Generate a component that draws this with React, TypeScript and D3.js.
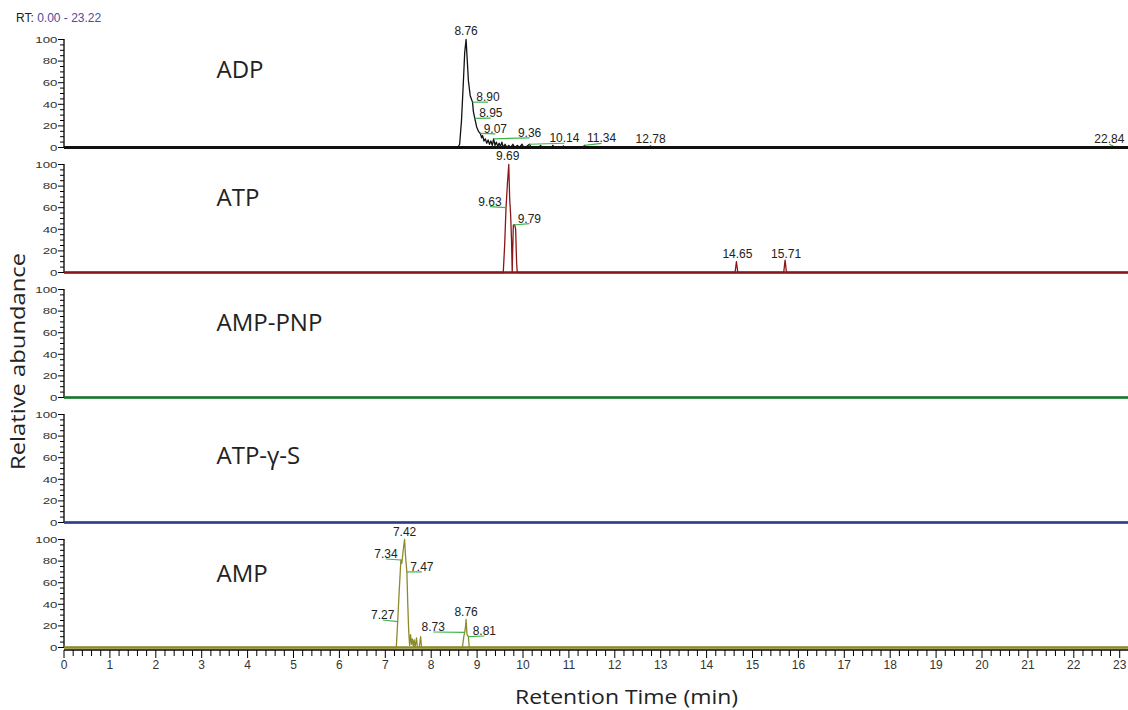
import React from "react";
import * as d3 from "d3";

// ---------- DATA ----------
const panelNames = ["ADP", "ATP", "AMP-PNP", "ATP-γ-S", "AMP"];
const rtRange = [0, 23.22];
const xTickValues = d3.range(0, 24, 1);
const yTickValues = [0, 20, 40, 60, 80, 100];

// chromatogram traces: [retention time (min), relative abundance (%)]
const adpTrace: [number, number][] = [
  [0, 0], [8.58, 0], [8.62, 3], [8.66, 25], [8.7, 60], [8.73, 88], [8.76, 100], [8.78, 85],
  [8.81, 62], [8.85, 48], [8.9, 42], [8.92, 33], [8.95, 27], [8.99, 19], [9.03, 15], [9.07, 13],
  [9.1, 9], [9.12, 11], [9.15, 6], [9.18, 8], [9.21, 4], [9.24, 7], [9.27, 3], [9.3, 6],
  [9.33, 2], [9.36, 8], [9.39, 2], [9.42, 5], [9.45, 1], [9.48, 4], [9.51, 1], [9.54, 5],
  [9.57, 0], [9.61, 3], [9.65, 0], [9.69, 2], [9.73, 0], [9.78, 3], [9.82, 0], [9.88, 2],
  [9.92, 0], [9.98, 3], [10.02, 0], [10.08, 1], [10.14, 3], [10.18, 0], [10.35, 0], [10.38, 2],
  [10.42, 0], [10.62, 0], [10.65, 2], [10.68, 0], [10.85, 0], [10.88, 1.5], [10.91, 0],
  [11.3, 0], [11.34, 2], [11.38, 0], [12.75, 0], [12.78, 1.5], [12.81, 0], [22.81, 0],
  [22.84, 1.5], [22.87, 0], [23.22, 0],
];
const atpTrace: [number, number][] = [
  [0, 0], [9.57, 0], [9.6, 25], [9.63, 60], [9.66, 82], [9.69, 100], [9.71, 68], [9.73, 54],
  [9.75, 30], [9.765, 0], [9.775, 20], [9.79, 44], [9.82, 44], [9.84, 40], [9.86, 10],
  [9.875, 0], [14.62, 0], [14.65, 10], [14.68, 0], [15.68, 0], [15.71, 11.5], [15.74, 0],
  [23.22, 0],
];
const ampPnpTrace: [number, number][] = [[0, 0], [23.22, 0]];
const atpGSTrace: [number, number][] = [[0, 0], [23.22, 0]];
const ampTrace: [number, number][] = [
  [0, 0], [7.24, 0], [7.27, 24], [7.3, 50], [7.34, 81], [7.36, 78], [7.39, 90], [7.42, 100],
  [7.44, 85], [7.47, 70], [7.49, 40], [7.51, 15], [7.53, 2], [7.55, 12], [7.57, 3], [7.59, 8],
  [7.61, 1], [7.63, 7], [7.65, 0], [7.68, 9], [7.7, 0], [7.74, 0], [7.77, 10], [7.79, 0],
  [8.68, 0], [8.71, 10], [8.73, 14], [8.75, 20], [8.76, 26], [8.78, 12], [8.81, 10], [8.83, 0],
  [23.22, 0],
];
const traces = [adpTrace, atpTrace, ampPnpTrace, atpGSTrace, ampTrace];

// peak annotations: retention time and abundance of the labelled point
const adpPeakRt = [8.76, 8.9, 8.95, 9.07, 9.36, 10.14, 11.34, 12.78, 22.84];
const adpPeakVal = [100, 42, 27, 13, 8, 3, 2, 1.5, 1.5];
const atpPeakRt = [9.69, 9.63, 9.79, 14.65, 15.71];
const atpPeakVal = [100, 60, 44, 10, 11.5];
const ampPeakRt = [7.42, 7.34, 7.47, 7.27, 8.76, 8.73, 8.81];
const ampPeakVal = [100, 81, 70, 24, 26, 14, 10];
const peakRts = [adpPeakRt, atpPeakRt, [], [], ampPeakRt];
const peakVals = [adpPeakVal, atpPeakVal, [], [], ampPeakVal];

// ---------- LAYOUT / STYLE ----------
const W = 1128;
const H = 710;
const left = 64;
const pxPerMin = 45.9;
const panelTop0 = 39.5;
const panelStep = 125;
const panelH = 108;
const colors = ["#111111", "#8a1717", "#15772f", "#2c3a88", "#8d8a2c"];
const labelBaseOffsets = [38, 41.5, 41.5, 49.5, 42.5];
const annoGreen = "#3db54a";
// label offsets (px) relative to peak point: [dx, dy]
const labelOffsets: [number, number][][] = [
  [[0, -4.5], [15.5, -1], [16, -1.3], [15, -0.5], [36, -2], [35, -2], [17, -3], [0, -3], [-3, -3]],
  [[-1, -4.5], [-16, -2], [16, -2.3], [1, -3.7], [1, -2.5]],
  [],
  [],
  [[0, -3.5], [-15, -2], [15, -1], [-15, -2.6], [0, -3], [-31.5, -1.4], [16, -1.7]],
];
const tickFont = "'Liberation Sans', Arial, Helvetica, sans-serif";
const titleFont = "'Open Sans', 'Noto Sans', sans-serif";

export default function App() {
  const x = d3
    .scaleLinear()
    .domain(rtRange)
    .range([left, left + (rtRange[1] - rtRange[0]) * pxPerMin]);
  const yScales = panelNames.map((_, i) =>
    d3
      .scaleLinear()
      .domain([0, 100])
      .range([panelTop0 + i * panelStep + panelH, panelTop0 + i * panelStep])
  );
  const yMinor = d3.range(0, 101, 5);
  const xMinor = d3.range(0, 23.21, 0.2);
  const lastY = yScales[4](0);
  const axisY = lastY + 2.5;

  return (
    <svg
      width={W}
      height={H}
      style={{ position: "absolute", left: 0, top: 0, background: "#fff" }}
    >
      <rect x={0} y={0} width={W} height={H} fill="#fff" />
      <text x={16} y={21.5} fontFamily={tickFont} fontSize={12} fill="#222">
        RT:{" "}
        <tspan fill="#4b4c9c">0.00 - 23.22</tspan>
      </text>

      {panelNames.map((name, i) => {
        const y = yScales[i];
        const line = d3
          .line<[number, number]>()
          .x((d) => x(d[0]))
          .y((d) => y(d[1]));
        return (
          <g key={name}>
            {/* y axis */}
            <line x1={left} x2={left} y1={y(100) - 0.5} y2={y(0)} stroke="#000" strokeWidth={1.3} />
            {yMinor.map((v) => {
              const major = v % 20 === 0;
              return (
                <line
                  key={v}
                  x1={left - (major ? 6 : 4)}
                  x2={left}
                  y1={y(v)}
                  y2={y(v)}
                  stroke="#000"
                  strokeWidth={1}
                />
              );
            })}
            {yTickValues.map((v) => (
              <text
                key={"l" + v}
                x={57.5}
                y={y(v) + 3.2}
                textAnchor="end"
                fontFamily={tickFont}
                fontSize={8.6}
                fill="#333"
                textLength={String(v).length * 7.4}
                lengthAdjust="spacingAndGlyphs"
              >
                {v}
              </text>
            ))}
            {/* baseline */}
            <line
              x1={left}
              x2={W}
              y1={y(0)}
              y2={y(0)}
              stroke={colors[i]}
              strokeWidth={i === 0 ? 2.8 : 2.4}
            />
            {/* trace */}
            <path
              d={line(traces[i]) || ""}
              fill="none"
              stroke={colors[i]}
              strokeWidth={1.3}
              strokeLinejoin="round"
            />
            {/* annotations */}
            {peakRts[i].map((rt, k) => {
              const px = x(rt);
              const py = y(peakVals[i][k]);
              const [dx, dy] = labelOffsets[i][k];
              const tx = px + dx;
              const ty = py + dy;
              const showLine = Math.abs(dx) > 2;
              return (
                <g key={"a" + k}>
                  {showLine && (
                    <line
                      x1={px}
                      y1={py}
                      x2={tx}
                      y2={ty + 1}
                      stroke={annoGreen}
                      strokeWidth={1.2}
                    />
                  )}
                  <text
                    x={tx}
                    y={ty}
                    textAnchor="middle"
                    fontFamily={tickFont}
                    fontSize={12}
                    fill="#222"
                  >
                    {rt.toFixed(2)}
                  </text>
                </g>
              );
            })}
            {/* compound label */}
            <text
              x={216.5}
              y={y(100) + labelBaseOffsets[i]}
              fontFamily={titleFont}
              fontSize={24}
              fill="#222"
            >
              {name}
            </text>
          </g>
        );
      })}

      {/* x axis */}
      <line x1={left} x2={W} y1={axisY} y2={axisY} stroke="#000" strokeWidth={1.3} />
      {xMinor.map((v, k) => {
        const major = k % 5 === 0;
        return (
          <line
            key={"xm" + k}
            x1={x(v)}
            x2={x(v)}
            y1={axisY}
            y2={axisY + (major ? 8 : 6)}
            stroke="#000"
            strokeWidth={1}
          />
        );
      })}
      {xTickValues.map((v) => (
        <text
          key={"xt" + v}
          x={x(v)}
          y={669}
          textAnchor="middle"
          fontFamily={tickFont}
          fontSize={12}
          fill="#333"
        >
          {v}
        </text>
      ))}
      <text
        x={515}
        y={704}
        fontFamily={titleFont}
        fontSize={19.5}
        fill="#222"
        textLength={223}
        lengthAdjust="spacingAndGlyphs"
      >
        Retention Time (min)
      </text>
      <text
        transform={`translate(25,470) rotate(-90)`}
        fontFamily={titleFont}
        fontSize={20}
        fill="#222"
        textLength={217}
        lengthAdjust="spacingAndGlyphs"
      >
        Relative abundance
      </text>
    </svg>
  );
}
